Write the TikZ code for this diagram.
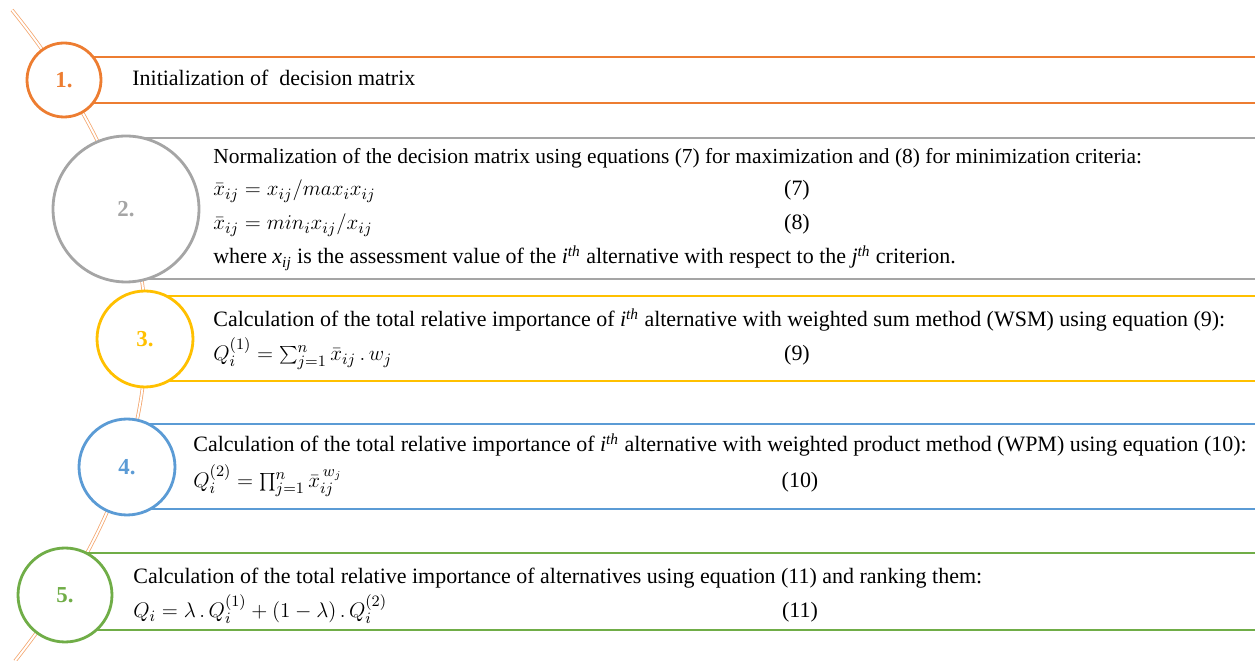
\documentclass[tikz,border=0pt]{standalone}
\usepackage{fontspec}
\setmainfont{Liberation Serif}
\usetikzlibrary{positioning}
\definecolor{stepOrange}{HTML}{ED7D31}
\definecolor{stepGray}{HTML}{A5A5A5}
\definecolor{stepGold}{HTML}{FFC000}
\definecolor{stepBlue}{HTML}{5B9BD5}
\definecolor{stepGreen}{HTML}{70AD47}
\definecolor{spineOrange}{HTML}{F4A66E}

\begin{document}
\begin{tikzpicture}[x=0.02cm, y=-0.02cm,
    numc/.style={circle, draw=#1, line width=1.6pt, fill=white,
      font=\fontsize{13}{15}\selectfont\bfseries, text=#1},
    band/.style={draw=#1, line width=1.6pt},
    spine/.style={draw=spineOrange, line width=0.45pt, double=white, double distance=1.1pt},
    txt/.style={anchor=base west, inner sep=0pt, font=\fontsize{12.5}{14}\selectfont},
    eqno/.style={anchor=base, inner sep=0pt, font=\fontsize{12.5}{14}\selectfont}]
    \useasboundingbox (0,0) rectangle (1255,661);
    % spine behind the circles
    \coordinate (spineTop) at (12,10);
    \coordinate (spineEnd) at (15,661);
    \draw[spine] (spineTop) .. controls (190,230) and (190,440) .. (spineEnd);
    % bands
    \draw[band=stepOrange] (64,57) -- (1255,57) (64,103) -- (1255,103);
    \draw[band=stepGray] (126,138) -- (1255,138) (126,279) -- (1255,279);
    \draw[band=stepGold] (145,296) -- (1255,296) (145,381) -- (1255,381);
    \draw[band=stepBlue] (127,424) -- (1255,424) (127,509) -- (1255,509);
    \draw[band=stepGreen] (65,553) -- (1255,553) (65,630) -- (1255,630);
    % step circles
    \node[numc=stepOrange, minimum size=1.48cm] (c1) at (64,80) {1.};
    \node[numc=stepGray, minimum size=2.92cm] (c2) at (126,209) {2.};
    \node[numc=stepGold, minimum size=1.92cm] (c3) at (145,339) {3.};
    \node[numc=stepBlue, minimum size=1.92cm] (c4) at (127,467) {4.};
    \node[numc=stepGreen, minimum size=1.88cm] (c5) at (65,595) {5.};
    % step 1
    \node[txt] (t1) at (132,86) {Initialization of\ \ decision matrix};
    % step 2
    \node[txt, font=\fontsize{12.2}{14}\selectfont] (t2a) at (213,164) {Normalization of the decision matrix using equations (7) for maximization and (8) for minimization criteria:};
    \node[txt] (t2b) at (213,196) {$\bar{x}_{ij} = x_{ij}/max_i x_{ij}$};
    \node[eqno] (n7) at (797,196) {(7)};
    \node[txt] (t2c) at (213,230) {$\bar{x}_{ij} = min_i x_{ij}/x_{ij}$};
    \node[eqno] (n8) at (797,230) {(8)};
    \node[txt] (t2d) at (213,264) {where \textit{x}\textsubscript{\textit{ij}} is the assessment value of the \textit{i}\textsuperscript{\textit{th}} alternative with respect to the \textit{j}\textsuperscript{\textit{th}} criterion.};
    % step 3
    \node[txt] (t3a) at (213,327) {Calculation of the total relative importance of \textit{i}\textsuperscript{\textit{th}} alternative with weighted sum method (WSM) using equation (9):};
    \node[txt] (t3b) at (213,361) {$Q_i^{(1)} = \sum_{j=1}^{n} \bar{x}_{ij}\,.\,w_j$};
    \node[eqno] (n9) at (797,361) {(9)};
    % step 4
    \node[txt] (t4a) at (193,452) {Calculation of the total relative importance of \textit{i}\textsuperscript{\textit{th}} alternative with weighted product method (WPM) using equation (10):};
    \node[txt] (t4b) at (193,488) {$Q_i^{(2)} = \prod_{j=1}^{n} \bar{x}_{ij}^{\,w_j}$};
    \node[eqno] (n10) at (800,488) {(10)};
    % step 5
    \node[txt] (t5a) at (133,584) {Calculation of the total relative importance of alternatives using equation (11) and ranking them:};
    \node[txt] (t5b) at (133,618) {$Q_i = \lambda\,.\,Q_i^{(1)} + (1-\lambda)\,.\,Q_i^{(2)}$};
    \node[eqno] (n11) at (800,618) {(11)};
\end{tikzpicture}
\end{document}
